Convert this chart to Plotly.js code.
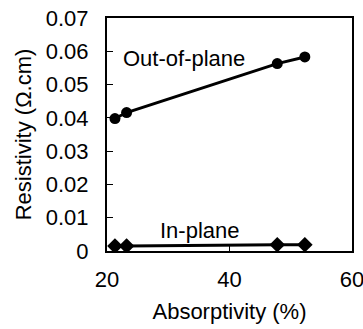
<!DOCTYPE html>
<html><head><meta charset="utf-8">
<script src="https://cdn.plot.ly/plotly-3.0.1.min.js"></script>
<style>html,body{margin:0;padding:0;background:#fff}#chart{width:363px;height:329px}</style>
</head><body><div id="chart"></div>
<script>
const absorptivity = [21.3, 23.2, 47.8, 52.3];
const outOfPlane = [0.0398, 0.0416, 0.0563, 0.0583];
const inPlane = [0.0015, 0.0015, 0.0019, 0.0019];
const xTicks = [20, 40, 60];
const yTicks = [0, 0.01, 0.02, 0.03, 0.04, 0.05, 0.06, 0.07];
const yTickText = ['0', '0.01', '0.02', '0.03', '0.04', '0.05', '0.06', '0.07'];

const font = {family: 'Liberation Sans, Arial, sans-serif', size: 22, color: '#000'};
const data = [
  {x: absorptivity, y: outOfPlane, mode: 'lines+markers', name: 'Out-of-plane',
   line: {color: '#000', width: 3}, marker: {symbol: 'circle', size: 11, color: '#000'}},
  {x: absorptivity, y: inPlane, mode: 'lines+markers', name: 'In-plane',
   line: {color: '#000', width: 3}, marker: {symbol: 'diamond', size: 12, color: '#000'}}
];
const layout = {
  width: 363, height: 329,
  margin: {l: 107, r: 11, t: 18, b: 78},
  paper_bgcolor: '#fff', plot_bgcolor: '#fff',
  showlegend: false,
  font: font,
  xaxis: {range: [20, 60], tickvals: xTicks, ticktext: xTicks.map(String),
    ticks: 'inside', ticklen: 6, tickcolor: '#000', tickwidth: 1,
    showline: true, linecolor: '#000', linewidth: 2, mirror: true,
    showgrid: false, zeroline: false, ticklabelstandoff: 8,
    ticklabeloverflow: 'allow', automargin: false,
    title: {text: 'Absorptivity (%)', font: font, standoff: 12}},
  yaxis: {range: [0, 0.07], tickvals: yTicks, ticktext: yTickText,
    ticks: 'inside', ticklen: 6, tickcolor: '#000', tickwidth: 1,
    showline: true, linecolor: '#000', linewidth: 2, mirror: true,
    showgrid: false, zeroline: false, ticklabelstandoff: 12,
    automargin: false,
    title: {text: 'Resistivity (Ω.cm)', font: font, standoff: 8}},
  annotations: [
    {x: 32.6, y: 0.0578, xref: 'x', yref: 'y', text: 'Out-of-plane', showarrow: false, font: font},
    {x: 35.2, y: 0.0062, xref: 'x', yref: 'y', text: 'In-plane', showarrow: false, font: font}
  ]
};
Plotly.newPlot('chart', data, layout, {displayModeBar: false, staticPlot: true});
</script></body></html>
